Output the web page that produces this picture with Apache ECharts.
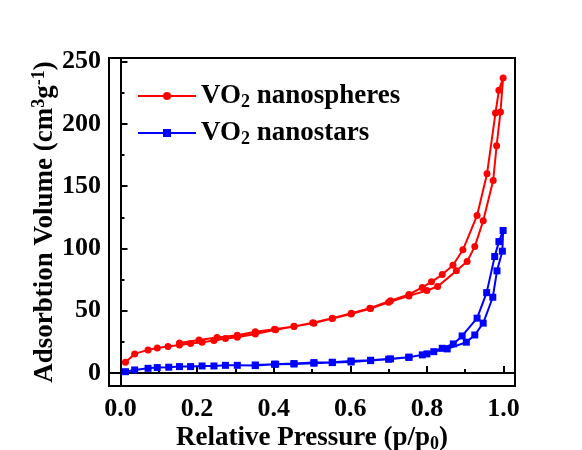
<!DOCTYPE html>
<html>
<head>
<meta charset="utf-8">
<script src="https://cdn.jsdelivr.net/npm/echarts@6/dist/echarts.min.js"></script>
<style>html,body{margin:0;padding:0;background:#fff;}#c{width:582px;height:450px;}</style>
</head>
<body>
<div id="c"></div>
<script>
// ---- data (adsorption branch followed by desorption branch) ----
const redP = [0.013,0.037,0.072,0.096,0.124,0.154,0.183,0.213,0.244,0.274,0.305,0.352,0.405,0.453,0.505,0.553,0.602,0.653,0.700,0.753,0.800,0.828,0.877,0.905,0.925,0.947,0.973,0.982,0.992,0.999,
              0.988,0.979,0.957,0.931,0.894,0.868,0.840,0.812,0.788,0.753,0.705,0.651,0.603,0.553,0.502,0.453,0.402,0.352,0.305,0.252,0.205,0.154];
const redV = [8.6,15.3,18.5,20.0,21.2,22.5,23.6,24.7,26.0,27.6,28.7,31.3,34.6,37.2,40.0,43.7,47.4,51.7,56.8,61.9,66.2,69.4,82.0,89.5,101.5,122.3,154.6,182.5,209.6,237.0,
              227.0,208.8,160.0,126.5,98.9,86.5,79.0,73.2,68.7,63.0,58.0,52.0,48.0,44.0,40.4,37.4,35.1,33.0,30.3,28.4,26.5,24.0];
const blueP = [0.013,0.037,0.072,0.096,0.126,0.154,0.183,0.213,0.244,0.274,0.305,0.352,0.405,0.453,0.505,0.553,0.602,0.653,0.700,0.753,0.800,0.818,0.853,0.903,0.925,0.947,0.972,0.983,0.997,0.999,
               0.988,0.977,0.956,0.931,0.892,0.869,0.840,0.788,0.753,0.705,0.653,0.602,0.553,0.505,0.453,0.402,0.352];
const blueV = [1.0,2.4,3.7,4.3,4.6,5.1,5.1,5.6,5.6,6.1,6.1,5.9,7.0,7.2,7.8,8.3,8.8,9.9,11.0,12.6,15.3,17.1,19.3,24.7,30.5,40.0,60.8,82.0,97.8,114.4,
               105.5,93.5,64.5,44.0,29.7,23.3,19.8,14.5,12.6,11.3,10.2,9.6,8.6,8.3,7.5,7.0,6.4];
const xMajor = [0, 0.2, 0.4, 0.6, 0.8, 1.0];
const xMinor = [0.1, 0.3, 0.5, 0.7, 0.9];
const yMajor = [0, 50, 100, 150, 200, 250];
const yMinor = [25, 75, 125, 175, 225];
const seriesNames = ['VO2 nanospheres', 'VO2 nanostars'];

const pair = (xs, ys) => xs.map((x, i) => [x, ys[i]]);
const FONT = '"Liberation Serif","Times New Roman",serif';
const base = { fontFamily: FONT, fontWeight: 'bold', color: '#000' };
const TICK_FS = 26, TITLE_FS = 27, SUB_FS = 18;

const chart = echarts.init(document.getElementById('c'), null, { renderer: 'canvas' });
const xCommon = { type: 'value', min: -0.03, max: 1.03, gridIndex: 0, splitLine: { show: false } };
const yCommon = { type: 'value', min: -10.5, max: 253, gridIndex: 0, splitLine: { show: false } };

chart.setOption({
  backgroundColor: '#fff',
  animation: false,
  grid: { left: 109, top: 58, width: 406, height: 328, containLabel: false, outerBoundsMode: 'none',
          show: true, borderColor: '#000', borderWidth: 2, backgroundColor: 'transparent' },
  legend: {
    left: 132, top: 76, orient: 'vertical', itemWidth: 58, itemHeight: 10, itemGap: 7,
    data: seriesNames,
    formatter: n => n === seriesNames[0] ? '{a|VO}{s|2}{a| nanospheres}' : '{a|VO}{s|2}{a| nanostars}',
    textStyle: {
      rich: {
        a: Object.assign({ fontSize: TITLE_FS, lineHeight: 28 }, base),
        s: Object.assign({ fontSize: SUB_FS, lineHeight: 28, padding: [12, 0, 0, 0] }, base)
      }
    }
  },
  xAxis: [
    Object.assign({}, xCommon, {
      position: 'bottom',
      name: '{a|Relative Pressure (p/p}{s|0}{a|)}', nameLocation: 'middle', nameGap: 38, nameMoveOverlap: false,
      nameTextStyle: { rich: {
        a: Object.assign({ fontSize: TITLE_FS, lineHeight: 28 }, base),
        s: Object.assign({ fontSize: SUB_FS, lineHeight: 28, padding: [12, 0, 0, 0] }, base)
      } },
      axisLine: { show: true, lineStyle: { color: '#000', width: 2 } },
      axisTick: { show: true, inside: true, length: 7, lineStyle: { color: '#000', width: 2 }, customValues: xMajor },
      axisLabel: Object.assign({ show: true, fontSize: TICK_FS, margin: 10, customValues: xMajor, formatter: v => v.toFixed(1) }, base)
    }),
    Object.assign({}, xCommon, {
      position: 'bottom',
      axisLine: { show: false },
      axisTick: { show: true, inside: true, length: 4, lineStyle: { color: '#000', width: 2 }, customValues: xMinor },
      axisLabel: { show: false }
    })
  ],
  yAxis: [
    Object.assign({}, yCommon, {
      position: 'left',
      name: '{a|Adsorbtion Volume (cm}{s|3}{a|g}{s|-1}{a|)}', nameLocation: 'middle', nameGap: 50, nameRotate: 90, nameMoveOverlap: false,
      nameTextStyle: { rich: {
        a: Object.assign({ fontSize: TITLE_FS, lineHeight: 28 }, base),
        s: Object.assign({ fontSize: SUB_FS, lineHeight: 28, padding: [0, 0, 12, 0] }, base)
      } },
      axisLine: { show: true, lineStyle: { color: '#000', width: 2 } },
      axisTick: { show: true, inside: true, length: 7, lineStyle: { color: '#000', width: 2 }, customValues: yMajor },
      axisLabel: Object.assign({ show: true, fontSize: TICK_FS, margin: 8, customValues: yMajor }, base)
    }),
    Object.assign({}, yCommon, {
      position: 'left',
      axisLine: { show: false },
      axisTick: { show: true, inside: true, length: 4, lineStyle: { color: '#000', width: 2 }, customValues: yMinor },
      axisLabel: { show: false }
    })
  ],
  series: [
    { name: seriesNames[0], type: 'line', xAxisIndex: 0, yAxisIndex: 0, data: pair(redP, redV),
      symbol: 'circle', symbolSize: 7, showAllSymbol: true,
      lineStyle: { color: '#ff0000', width: 2 }, itemStyle: { color: '#ff0000' } },
    { name: seriesNames[1], type: 'line', xAxisIndex: 0, yAxisIndex: 0, data: pair(blueP, blueV),
      symbol: 'rect', symbolSize: 7, showAllSymbol: true,
      lineStyle: { color: '#0000ff', width: 2 }, itemStyle: { color: '#0000ff' } }
  ]
});
</script>
</body>
</html>
